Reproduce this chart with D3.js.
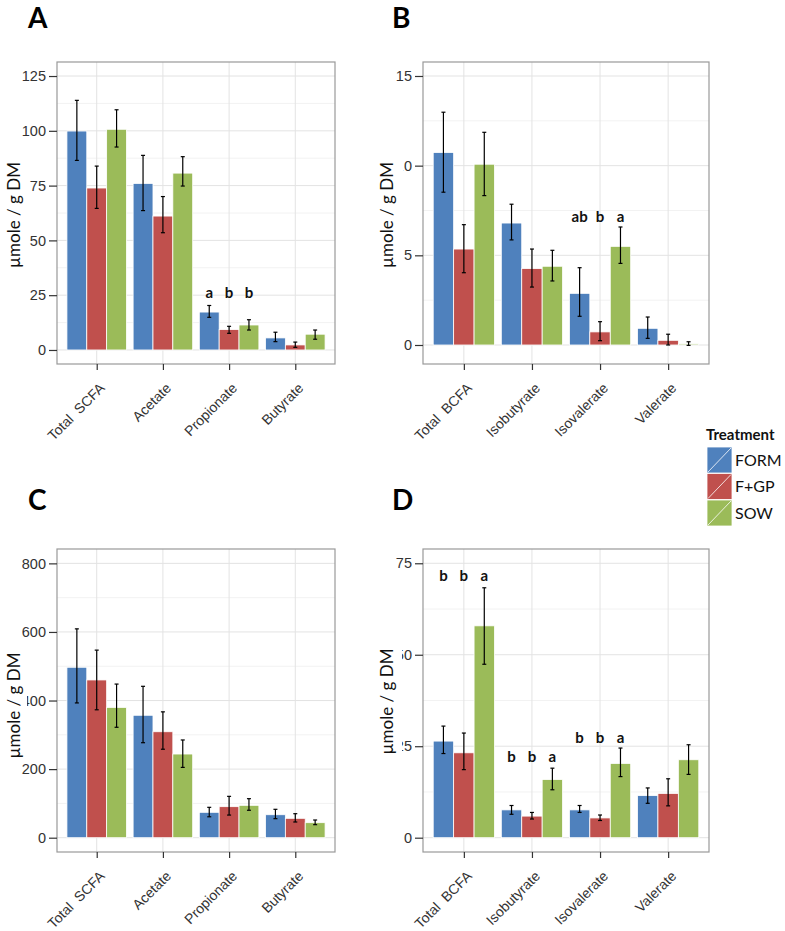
<!DOCTYPE html>
<html>
<head>
<meta charset="utf-8">
<script src="https://cdn.jsdelivr.net/npm/d3@7"></script>
<style>
  body { margin: 0; background: #fff; }
  svg text { font-family: "Liberation Sans", Arial, sans-serif; }
  .calib { font-family: Lato, "Open Sans", sans-serif !important; }
</style>
</head>
<body>
<div id="chart"></div>
<script>
// Treatments and their colours
var treatments = ["FORM", "F+GP", "SOW"];
var colors = ["#4F81BD", "#C0504D", "#9BBB59"];

// Categories
var scfaCats = ["Total  SCFA", "Acetate", "Propionate", "Butyrate"];
var bcfaCats = ["Total  BCFA", "Isobutyrate", "Isovalerate", "Valerate"];

// Panel A (SCFA) - rows are categories, columns are treatments
var aMean = [[99.9, 73.9, 100.7], [76, 61.1, 80.7], [17.3, 9.3, 11.4], [5.5, 2.3, 7.2]];
var aLow  = [[86.5, 64.6, 92.6], [63.6, 53.5, 74.8], [14.9, 7.6, 9.1], [3.8, 1.2, 4.9]];
var aHigh = [[113.9, 83.9, 109.6], [88.8, 70, 88.2], [20.3, 10.8, 13.8], [8.1, 3.6, 9.1]];
var aTicks = [0, 25, 50, 75, 100, 125];

// Panel B (BCFA)
var bMean = [[10.73, 5.35, 10.08], [6.80, 4.26, 4.39], [2.88, 0.73, 5.50], [0.93, 0.26, 0.06]];
var bLow  = [[8.52, 4.03, 8.33], [5.86, 3.23, 3.57], [1.60, 0.24, 4.55], [0.37, 0.0, -0.02]];
var bHigh = [[12.98, 6.71, 11.86], [7.85, 5.35, 5.28], [4.31, 1.30, 6.58], [1.56, 0.60, 0.18]];
var bTicks = [0, 5, 10, 15];

// Panel C (SCFA)
var cMean = [[497, 460, 380], [357, 309, 244], [74, 90.5, 94.4], [67, 56.5, 43.8]];
var cLow  = [[393, 373, 322], [277, 258, 205], [61, 66, 80], [55.5, 45.8, 38]];
var cHigh = [[609, 547, 448], [441.5, 367, 285], [88.6, 120.6, 113.8], [82.8, 70, 51.6]];
var cTicks = [0, 200, 400, 600, 800];

// Panel D (BCFA)
var dMean = [[26.4, 23.2, 57.9], [7.6, 5.9, 15.9], [7.6, 5.4, 20.3], [11.5, 12.1, 21.3]];
var dLow  = [[23.0, 18.6, 47.4], [6.4, 5.1, 13.1], [6.9, 4.7, 16.7], [9.4, 8.7, 17.3]];
var dHigh = [[30.5, 28.6, 68.3], [8.8, 6.9, 19.0], [8.8, 6.2, 24.5], [13.6, 16.1, 25.4]];
var dTicks = [0, 25, 50, 75];

// Significance letters: category index, letters per treatment, height (data units)
var aLetters = [{cat: 2, labels: ["a", "b", "b"], y: 26}];
var bLetters = [{cat: 2, labels: ["ab", "b", "a"], y: 7.16}];
var cLetters = [];
var dLetters = [
    {cat: 0, labels: ["b", "b", "a"], y: 71.7},
    {cat: 1, labels: ["b", "b", "a"], y: 22.1},
    {cat: 2, labels: ["b", "b", "a"], y: 27.4}
];

var svg = d3.select("#chart").append("svg").attr("width", 785).attr("height", 931);

function drawPanel(p) {
    var g = svg.append("g");
    var x = d3.scalePoint().domain(p.cats).range([p.left, p.right]).padding(0.6);
    var step = x.step();
    var xSub = d3.scaleBand().domain(treatments).range([-0.45 * step, 0.45 * step]);
    var y = d3.scaleLinear().domain(p.yDomain).range([p.bottom, p.top]);

    // background + grid
    g.append("rect").attr("x", p.left).attr("y", p.top)
        .attr("width", p.right - p.left).attr("height", p.bottom - p.top).attr("fill", "#fff");
    var minor = [];
    for (var i = 0; i < p.ticks.length - 1; i++) minor.push((p.ticks[i] + p.ticks[i + 1]) / 2);
    g.selectAll(".minor").data(minor).enter().append("line")
        .attr("x1", p.left).attr("x2", p.right)
        .attr("y1", d => y(d)).attr("y2", d => y(d))
        .attr("stroke", "#f2f2f2").attr("stroke-width", 1);
    g.selectAll(".major").data(p.ticks).enter().append("line")
        .attr("x1", p.left).attr("x2", p.right)
        .attr("y1", d => y(d)).attr("y2", d => y(d))
        .attr("stroke", "#e3e3e3").attr("stroke-width", 1);
    g.selectAll(".vgrid").data(p.cats).enter().append("line")
        .attr("x1", d => x(d)).attr("x2", d => x(d))
        .attr("y1", p.top).attr("y2", p.bottom)
        .attr("stroke", "#e3e3e3").attr("stroke-width", 1);

    // bars + error bars
    var rows = [];
    p.cats.forEach((c, ci) => treatments.forEach((t, ti) => {
        rows.push({cat: c, t: t, ti: ti, mean: p.mean[ci][ti], low: p.low[ci][ti], high: p.high[ci][ti]});
    }));
    g.selectAll(".bar").data(rows).enter().append("rect")
        .attr("x", d => x(d.cat) + xSub(d.t))
        .attr("width", xSub.bandwidth())
        .attr("y", d => y(Math.max(0, d.mean)))
        .attr("height", d => Math.abs(y(0) - y(d.mean)))
        .attr("fill", d => colors[d.ti])
        .attr("stroke", "#fff").attr("stroke-width", 0.8);
    var cx = d => x(d.cat) + xSub(d.t) + xSub.bandwidth() / 2;
    g.selectAll(".err").data(rows).enter().append("line")
        .attr("x1", cx).attr("x2", cx)
        .attr("y1", d => y(d.low)).attr("y2", d => y(d.high))
        .attr("stroke", "#000").attr("stroke-width", 1.2);
    ["low", "high"].forEach(k => {
        g.selectAll(".cap" + k).data(rows).enter().append("line")
            .attr("x1", d => cx(d) - 2).attr("x2", d => cx(d) + 2)
            .attr("y1", d => y(d[k])).attr("y2", d => y(d[k]))
            .attr("stroke", "#000").attr("stroke-width", 1.2);
    });

    // frame
    g.append("rect").attr("x", p.left).attr("y", p.top)
        .attr("width", p.right - p.left).attr("height", p.bottom - p.top)
        .attr("fill", "none").attr("stroke", "#999").attr("stroke-width", 1.2);

    // axes
    var leftAxis = d3.axisLeft(y).tickValues(p.ticks).tickSize(8).tickPadding(3);
    var yAxis = g.append("g").attr("transform", `translate(${p.left},0)`).call(leftAxis);
    yAxis.select(".domain").remove();
    yAxis.selectAll("line").attr("stroke", "#333").attr("stroke-width", 1.2);
    yAxis.selectAll("text").attr("font-size", "14.5px").attr("fill", "#333")
        .style("font-family", "'Liberation Sans', Arial, sans-serif");

    var bottomAxis = d3.axisBottom(x).tickSize(6).tickFormat("");
    var xAxis = g.append("g").attr("transform", `translate(0,${p.bottom})`).call(bottomAxis);
    xAxis.select(".domain").remove();
    xAxis.selectAll("line").attr("stroke", "#333").attr("stroke-width", 1.2);
    g.selectAll(".xlab").data(p.cats).enter().append("text")
        .attr("transform", d => `translate(${x(d) + 9},${p.bottom + 25}) rotate(-45)`)
        .attr("text-anchor", "end")
        .attr("font-size", "14px").attr("fill", "#333")
        .style("white-space", "pre")
        .text(d => d);

    // significance letters
    p.letters.forEach(L => {
        L.labels.forEach((lab, ti) => {
            g.append("text").attr("class", "calib")
                .attr("x", x(p.cats[L.cat]) + xSub(treatments[ti]) + xSub.bandwidth() / 2)
                .attr("y", y(L.y)).attr("dy", "0.35em")
                .attr("text-anchor", "middle")
                .attr("font-size", "15px").attr("font-weight", "bold").attr("fill", "#111")
                .text(lab);
        });
    });

    // y title with white backing (covers part of tick labels as in original)
    var ty = (p.top + p.bottom) / 2 + p.titleDy;
    g.append("rect").attr("x", p.coverX0).attr("y", ty - 54)
        .attr("width", p.coverX1 - p.coverX0).attr("height", 108).attr("fill", "#fff");
    g.append("text").attr("class", "calib")
        .attr("transform", `translate(${p.titleX},${ty}) rotate(-90)`)
        .attr("text-anchor", "middle")
        .attr("font-size", "17px").attr("fill", "#111")
        .text("µmole / g DM");

    // panel letter
    g.append("text").attr("class", "calib")
        .attr("x", p.labelX).attr("y", p.labelY)
        .attr("font-size", "28px").attr("font-weight", "bold").attr("fill", "#000")
        .text(p.label);
}

drawPanel({label: "A", labelX: 28, labelY: 28, cats: scfaCats, mean: aMean, low: aLow, high: aHigh,
    ticks: aTicks, yDomain: [-6.4, 131.4], left: 57, right: 335, top: 62, bottom: 364,
    letters: aLetters, titleX: 20, titleDy: 2, coverX0: 4, coverX1: 24});
drawPanel({label: "B", labelX: 392, labelY: 28, cats: bcfaCats, mean: bMean, low: bLow, high: bHigh,
    ticks: bTicks, yDomain: [-1.06, 15.78], left: 423, right: 709, top: 62, bottom: 364,
    letters: bLetters, titleX: 393, titleDy: 2, coverX0: 378, coverX1: 403.5});
drawPanel({label: "C", labelX: 28, labelY: 510, cats: scfaCats, mean: cMean, low: cLow, high: cHigh,
    ticks: cTicks, yDomain: [-41.7, 841.9], left: 57, right: 335, top: 549, bottom: 852,
    letters: cLetters, titleX: 20, titleDy: 5, coverX0: 4, coverX1: 27});
drawPanel({label: "D", labelX: 392, labelY: 510, cats: bcfaCats, mean: dMean, low: dLow, high: dHigh,
    ticks: dTicks, yDomain: [-3.91, 78.9], left: 423, right: 709, top: 549, bottom: 852,
    letters: dLetters, titleX: 393, titleDy: 1, coverX0: 378, coverX1: 402});

// legend
var legend = svg.append("g");
legend.append("text").attr("class", "calib").attr("x", 706).attr("y", 440)
    .attr("font-size", "15px").attr("font-weight", "bold").attr("fill", "#111").text("Treatment");
treatments.forEach((t, i) => {
    var ky = 447 + i * 26.5;
    legend.append("rect").attr("x", 707).attr("y", ky).attr("width", 25).attr("height", 26)
        .attr("fill", colors[i]).attr("stroke", "#fff").attr("stroke-width", 0.8);
    legend.append("line").attr("x1", 708).attr("y1", ky + 25).attr("x2", 731).attr("y2", ky + 1)
        .attr("stroke", "#fff").attr("stroke-width", 0.8);
    legend.append("text").attr("class", "calib").attr("x", 735).attr("y", ky + 13).attr("dy", "0.35em")
        .attr("font-size", "16px").attr("fill", "#111").text(t);
});
</script>
</body>
</html>
